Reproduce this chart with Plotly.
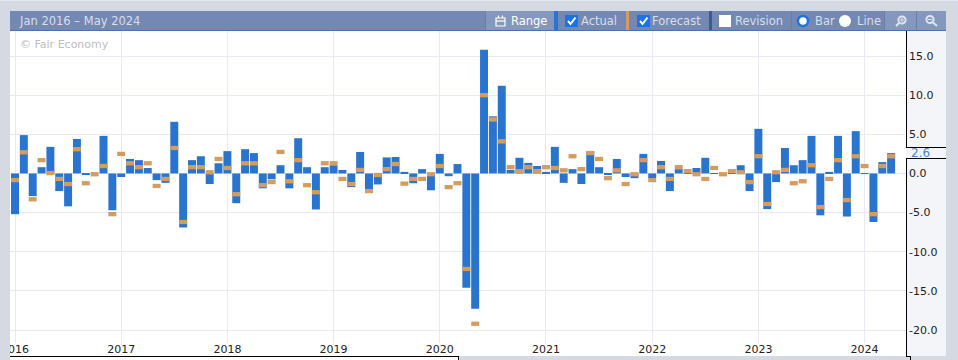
import plotly.graph_objects as go

YEARS = [2016, 2017, 2018, 2019, 2020, 2021, 2022, 2023, 2024]
MONTHS = [f"{y}-{m:02d}" for y in YEARS for m in range(1, 13)][:100]

ACTUAL = [
    -5.2, 4.9, -2.9, 0.8, 3.4, -2.25, -4.2, 4.4, -0.1, 0.0, 4.8, -4.7,
    -0.45, 1.85, 1.7, 0.7, -0.85, -1.2, 6.6, -6.9, 1.7, 2.2, -1.35, 1.3,
    2.85, -3.8, 3.1, 2.6, -1.9, -0.75, 1.05, -1.9, 4.5, 0.8, -4.6, 0.8,
    1.05, 0.45, -1.75, 2.75, -2.05, -1.4, 2.05, 2.1, 0.2, -1.25, 0.55, -2.15,
    2.5, -0.35, 1.2, -14.6, -17.3, 15.8, 7.3, 11.2, 0.45, 2.0, 1.35, 0.95,
    0.2, 3.4, -1.2, 0.55, -1.35, 2.85, 0.8, -0.2, 1.85, -0.45, -0.6, 2.5,
    -0.6, 1.6, -2.25, 0.55, 0.05, 0.7, 2.0, 0.05, 0.0, 0.05, 1.05, -2.25,
    5.7, -4.55, -1.1, 3.25, 1.05, 1.7, 4.8, -5.35, 0.2, 4.8, -5.5, 5.4,
    -0.05, -6.2, 1.45, 2.6,
]
FORECAST = [
    -0.85, 2.7, -3.3, 1.7, 0.05, -0.7, -1.35, 3.1, -1.25, -0.1, 0.95, -5.2,
    2.5, 1.3, 0.8, 1.3, -1.6, -0.7, 3.25, -6.2, 0.8, 0.8, 0.15, 1.85,
    0.7, -2.65, 1.3, 1.3, -1.5, -1.1, 2.75, -1.0, 1.7, -1.5, -2.4, 1.3,
    1.3, -0.7, -1.35, 0.45, -2.25, -0.2, 0.55, 1.2, -1.3, -0.7, -0.7, -0.1,
    0.95, -1.75, -1.25, -12.2, -19.2, 10.0, 6.9, 4.1, 0.8, 0.3, 0.8, 0.3,
    0.8, 0.7, 0.4, 2.2, 0.55, 2.6, 1.85, -0.6, 0.4, -1.35, -0.1, 1.7,
    -0.85, 0.8, -0.7, 0.8, 0.3, -0.1, -0.7, 0.7, -0.1, 0.3, 0.15, -1.1,
    2.2, -3.9, 0.15, 0.45, -1.25, -1.0, 1.05, -4.3, -0.7, 1.7, -3.4, 2.2,
    0.95, -5.2, 0.95, 2.2,
]
Y_TICKS = [-20, -15, -10, -5, 0, 5, 10, 15]
RANGE_LABEL = "Jan 2016 – May 2024"
MARK_H = 0.55

W, H = 958, 360
BG, HEAD, HEAD_L, PANEL, GRID = "#d5d9e2", "#7488b4", "#8497bf", "#f4f5f9", "#e8e9f2"
BLUE, ORANGE, CHECK = "#2874cf", "#d49c5e", "#1a73e8"
TOOL_TEXT = "#d8deea"


def px(x):
    return x / W


def py(y):
    return 1 - y / H


shapes = []
anns = []


def rect(x0, y0, x1, y1, color, layer="above", line=None, lw=0):
    shapes.append(dict(type="rect", xref="paper", yref="paper", x0=px(x0), x1=px(x1), y0=py(y1), y1=py(y0),
                       fillcolor=color, line=dict(color=line or color, width=lw), layer=layer))


def hline(x0, x1, y, color="#000", w=1):
    shapes.append(dict(type="line", xref="paper", yref="paper", x0=px(x0), x1=px(x1), y0=py(y), y1=py(y),
                       line=dict(color=color, width=w), layer="above"))


def vline(x, y0, y1, color="#000", w=1):
    shapes.append(dict(type="line", xref="paper", yref="paper", x0=px(x), x1=px(x), y0=py(y0), y1=py(y1),
                       line=dict(color=color, width=w), layer="above"))


def seg(x0, y0, x1, y1, color, w):
    shapes.append(dict(type="line", xref="paper", yref="paper", x0=px(x0), x1=px(x1), y0=py(y0), y1=py(y1),
                       line=dict(color=color, width=w), layer="above"))


def text(x, y, s, color=TOOL_TEXT, size=11.5):
    anns.append(dict(xref="paper", yref="paper", x=px(x - 1), y=py(y), text=s, showarrow=False, xanchor="left",
                     yanchor="middle", font=dict(color=color, size=size, family="DejaVu Sans"),
                     borderpad=0))


def circle(cx, cy, r, fill, line=None, lw=0):
    shapes.append(dict(type="circle", xref="paper", yref="paper", x0=px(cx - r), x1=px(cx + r), y0=py(cy + r),
                       y1=py(cy - r), fillcolor=fill, line=dict(color=line or fill, width=lw), layer="above"))


# frame
rect(0, 0, W, 1, "#e6e8ee")
rect(0, 343, 10, H, BG)
rect(10, 343, 906, 356, "#ffffff", layer="below")
rect(10, 356, 458, H, "#ffffff", layer="below")
rect(906, 31, 946, 356, PANEL, layer="below")
hline(10, 458, 356.5)
vline(458.5, 356, H)
hline(906, 911, 356.5)
vline(910.5, 356, H)
vline(906.5, 31, 147)
vline(906.5, 158, 356.5)
hline(906, 946, 147.5)
hline(906, 946, 158.5)

# header band
rect(10, 11, 946, 31, HEAD)
hline(10, 946, 30.5, "#4d71ae")
rect(485, 11, 554, 30, HEAD_L)
rect(884, 11, 946, 30, HEAD_L)
vline(485.5, 11, 30, "#6a7eaa")
vline(791.5, 11, 30, "#6a7eaa")
vline(884.5, 11, 30, "#6a7eaa")
vline(916.5, 11, 30, "#6a7eaa")
rect(554, 11, 558, 30, BLUE)
rect(626, 11, 629, 30, ORANGE)
rect(709, 11, 712, 30, "#3b5a96")
text(19, 21, RANGE_LABEL, size=11.5)

# range button icon
rect(496, 18, 505, 26, "rgba(0,0,0,0)", line="#ffffff", lw=1.2)
hline(496, 505, 21, "#ffffff", 1.2)
vline(498.5, 15.5, 18, "#ffffff", 1.2)
vline(502.5, 15.5, 18, "#ffffff", 1.2)
text(511, 21, "Range", color="#ffffff")

# checkboxes
for bx in (565, 637):
    rect(bx, 15, bx + 13, 27, CHECK)
    shapes.append(dict(type="path", xref="paper", yref="paper", layer="above",
                       path=f"M {px(bx+3)} {py(21)} L {px(bx+5.5)} {py(24)} L {px(bx+10.5)} {py(17.5)}",
                       line=dict(color="#fff", width=2)))
rect(719, 15, 731, 27, "#ffffff")
text(581, 21, "Actual")
text(652, 21, "Forecast")
text(735, 21, "Revision")

# radios
circle(803, 21, 5, "#ffffff", CHECK, 2.5)
circle(845, 21, 6, "#ffffff")
text(815, 21, "Bar")
text(857, 21, "Line")

# zoom icons
ICON = "#dfe4ee"
circle(902, 20, 3.6, "rgba(0,0,0,0)", ICON, 2)
seg(899, 23, 896, 26, ICON, 2)
seg(900, 20, 904, 20, ICON, 1)
seg(902, 18, 902, 22, ICON, 1)
circle(930, 19.5, 3.6, "rgba(0,0,0,0)", ICON, 2)
seg(933, 22.5, 937, 26, ICON, 2)
seg(928, 19.5, 932, 19.5, ICON, 1)

text(20, 44, "© Fair Economy", color="#bdbdbd", size=11)
text(911, 153, f"{ACTUAL[-1]:.1f}", color="#4a86d8", size=12)

fig = go.Figure()
fig.add_bar(x=MONTHS, y=ACTUAL, marker=dict(color=BLUE, line_width=0), name="Actual")
fig.add_bar(x=MONTHS, y=[MARK_H] * len(FORECAST), base=[f - MARK_H / 2 for f in FORECAST],
            marker=dict(color=ORANGE, line_width=0), name="Forecast")

fig.update_layout(
    width=W, height=H, autosize=False, margin=dict(l=0, r=0, t=0, b=0, autoexpand=False),
    paper_bgcolor=BG, plot_bgcolor="#ffffff", showlegend=False,
    barmode="overlay", bargap=0.1,
    shapes=shapes, annotations=anns,
    font=dict(family="DejaVu Sans", size=11, color="#222"),
    xaxis=dict(
        domain=[px(10), px(906)], type="category", categoryorder="array", categoryarray=MONTHS,
        range=[-0.565, 100.68], automargin=False,
        tickmode="array", tickvals=[f"{y}-01" for y in YEARS], ticktext=[str(y) for y in YEARS],
        showgrid=True, gridcolor=GRID, gridwidth=1, zeroline=False, showline=False, ticks="",
        ticklabelstandoff=-2, tickangle=0, tickfont=dict(size=11, color="#222"),
    ),
    yaxis=dict(
        domain=[py(343), py(31)], side="right", anchor="x", range=[-21.66, 18.2], automargin=False,
        tickmode="array", tickvals=Y_TICKS, ticktext=[f"{v:.1f}" for v in Y_TICKS],
        showgrid=True, gridcolor=GRID, gridwidth=1, zeroline=False, showline=False,
        ticks="", ticklabelstandoff=2, tickfont=dict(size=11, color="#222"),
    ),
)

fig.write_html("out.html", config=dict(displayModeBar=False), post_script="document.body.style.margin='0';")
